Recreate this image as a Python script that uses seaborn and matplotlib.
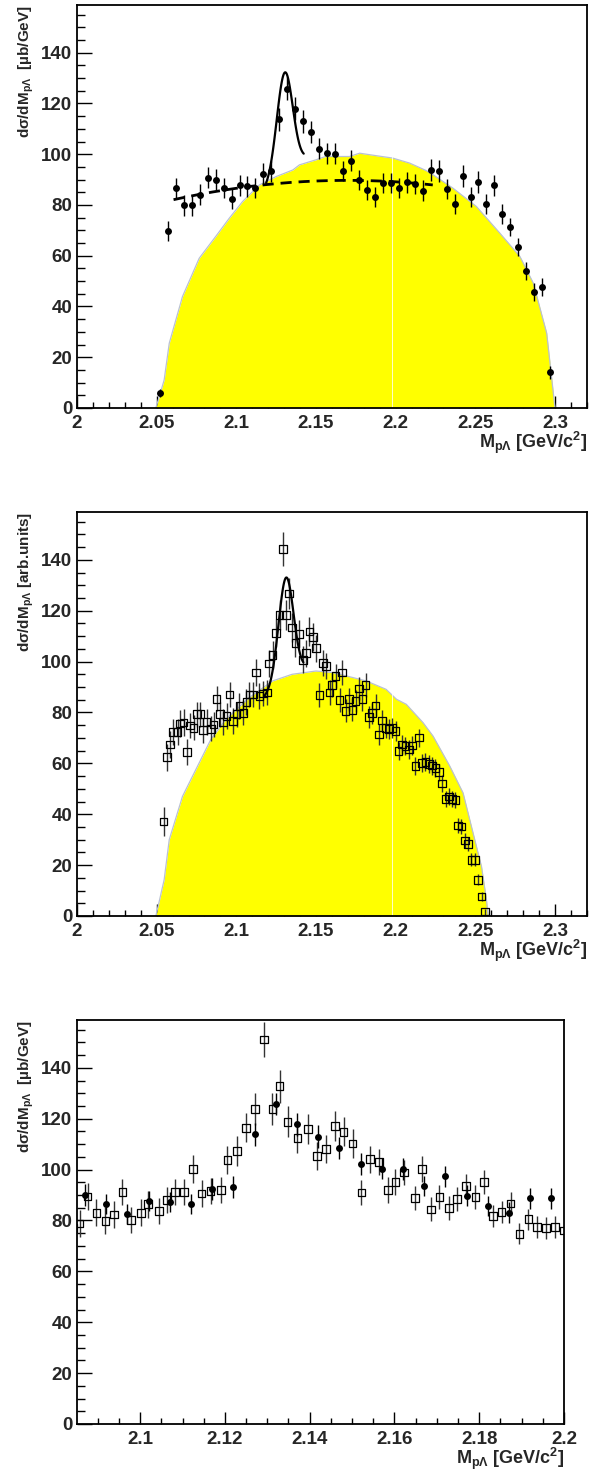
import numpy as np
import matplotlib
matplotlib.use('Agg')
import matplotlib.pyplot as plt
from matplotlib.ticker import MultipleLocator, FuncFormatter
import seaborn as sns

# p-Lambda invariant mass spectrum, data in mub/GeV (filled circles)
mass_mub = [2.052, 2.057, 2.062, 2.067, 2.072, 2.077, 2.082, 2.087, 2.092, 2.097,
            2.102, 2.107, 2.112, 2.117, 2.122, 2.127, 2.132, 2.137, 2.142, 2.147,
            2.152, 2.157, 2.162, 2.167, 2.172, 2.177, 2.182, 2.187, 2.192, 2.197,
            2.202, 2.207, 2.212, 2.217, 2.222, 2.227, 2.232, 2.237, 2.242, 2.247,
            2.252, 2.257, 2.262, 2.267, 2.272, 2.277, 2.282, 2.287, 2.292, 2.297]
xsec_mub = [5.8, 69.8, 86.6, 79.8, 79.8, 84.1, 90.8, 90.0, 86.6, 82.5,
            87.7, 87.3, 86.6, 92.4, 93.2, 113.8, 125.8, 117.9, 112.9, 108.6,
            102.2, 100.4, 100.2, 93.5, 97.4, 89.8, 85.8, 83.1, 88.7, 88.7,
            86.8, 88.9, 88.3, 85.7, 93.7, 93.5, 86.4, 80.4, 91.4, 83.1,
            89.0, 80.3, 87.8, 76.5, 71.2, 63.4, 54.1, 45.7, 47.7, 14.1]
err_mub = [1.5, 3.8, 4.0, 4.0, 4.0, 4.0, 4.2, 4.2, 4.0, 4.0,
           4.0, 4.0, 4.0, 4.2, 4.2, 4.5, 4.5, 4.5, 4.5, 4.3,
           4.2, 4.2, 4.2, 4.0, 4.2, 4.0, 4.0, 4.0, 4.0, 4.0,
           4.0, 4.0, 4.0, 4.0, 4.3, 4.3, 4.0, 4.0, 4.3, 4.0,
           4.2, 4.0, 4.2, 3.8, 3.6, 3.5, 3.6, 3.4, 3.4, 2.6]

# same spectrum, finer binning, arbitrary units (open squares)
mass_arb = [2.0543, 2.0564, 2.0585, 2.0604, 2.0631, 2.0646, 2.0669, 2.0690, 2.0709, 2.0732,
            2.0753, 2.0774, 2.0792, 2.0813, 2.0841, 2.0857, 2.0876, 2.0897, 2.0918, 2.0939,
            2.0958, 2.0979, 2.1002, 2.1019, 2.1044, 2.1063, 2.1082, 2.1103, 2.1124, 2.1145,
            2.1166, 2.1191, 2.1206, 2.1228, 2.1250, 2.1271, 2.1292, 2.1312, 2.1329, 2.1348,
            2.1371, 2.1396, 2.1417, 2.1438, 2.1459, 2.1480, 2.1501, 2.1522, 2.1543, 2.1564,
            2.1585, 2.1602, 2.1623, 2.1648, 2.1665, 2.1686, 2.1706, 2.1728, 2.1748, 2.1769,
            2.1791, 2.1811, 2.1832, 2.1853, 2.1874, 2.1895, 2.1916, 2.1937, 2.1958, 2.1979,
            2.2000, 2.2019, 2.2040, 2.2061, 2.2082, 2.2103, 2.2124, 2.2145, 2.2165, 2.2187,
            2.2208, 2.2229, 2.2250, 2.2271, 2.2292, 2.2313, 2.2333, 2.2354, 2.2375, 2.2392,
            2.2413, 2.2434, 2.2455, 2.2476, 2.2497, 2.2518, 2.2539, 2.2560]
yield_arb = [37.2, 62.4, 67.4, 72.3, 72.3, 75.6, 76.0, 64.5, 74.9, 74.0,
             79.3, 79.3, 73.0, 76.2, 73.6, 75.3, 85.4, 79.3, 76.3, 78.6,
             87.1, 76.6, 79.3, 82.5, 79.9, 84.1, 87.1, 87.1, 95.7, 86.5,
             87.5, 87.8, 99.2, 102.5, 111.2, 118.3, 144.3, 118.3, 126.8, 113.4,
             107.3, 110.8, 100.7, 103.3, 111.9, 109.7, 105.3, 86.9, 99.4, 98.3,
             87.8, 90.8, 94.4, 84.9, 95.7, 80.6, 85.2, 81.0, 84.5, 89.4,
             85.2, 90.8, 78.2, 79.7, 82.8, 71.4, 76.9, 74.0, 73.6, 74.0,
             72.7, 64.8, 67.4, 66.8, 65.5, 67.0, 58.9, 70.1, 60.2, 60.5,
             59.8, 59.1, 58.2, 56.5, 52.1, 46.0, 47.0, 46.0, 45.5, 35.6,
             35.2, 29.7, 28.4, 22.1, 22.1, 14.2, 7.6, 1.7]
err_arb = [5.6, 5.3, 5.3, 5.2, 5.2, 5.2, 5.2, 5.0, 5.0, 5.0,
           5.0, 5.0, 5.0, 5.0, 5.0, 5.0, 5.0, 5.0, 5.0, 5.0,
           5.0, 5.0, 5.0, 5.0, 5.0, 5.0, 5.0, 5.0, 5.3, 5.0,
           5.0, 5.0, 5.3, 5.5, 5.5, 6.0, 6.6, 6.0, 6.2, 5.8,
           5.5, 5.6, 5.3, 5.3, 5.6, 5.5, 5.3, 4.8, 5.0, 5.0,
           4.8, 4.8, 4.8, 4.6, 4.8, 4.5, 4.5, 4.5, 4.5, 4.6,
           4.5, 4.6, 4.2, 4.2, 4.3, 4.0, 4.0, 4.0, 4.0, 4.0,
           3.8, 3.6, 3.6, 3.6, 3.6, 3.6, 3.5, 3.6, 3.5, 3.5,
           3.5, 3.5, 3.5, 3.4, 3.3, 3.2, 3.2, 3.2, 3.2, 3.0,
           3.0, 2.8, 2.8, 2.6, 2.6, 2.2, 1.8, 1.2]

# arb. units -> mub/GeV for the overlay in the bottom panel
arb_to_mub = 1.047

# simulated phase space (yellow)
ps_top_mass = [2.0495, 2.0547, 2.0579, 2.0662, 2.0767, 2.0872, 2.0956, 2.1040, 2.1145, 2.1250,
               2.1355, 2.1396, 2.1500, 2.1560, 2.1710, 2.1774, 2.1880, 2.1980, 2.2088, 2.2190,
               2.2235, 2.2360, 2.2507, 2.2654, 2.2780, 2.2864, 2.2948, 2.3000]
ps_top_val = [0.0, 11.0, 25.5, 43.9, 59.0, 67.7, 74.8, 81.4, 87.9, 91.2,
              93.8, 95.8, 97.8, 99.1, 99.1, 100.4, 99.4, 98.5, 96.5, 93.6,
              91.9, 86.6, 79.4, 68.9, 59.7, 49.2, 29.5, 0.0]
ps_mid_mass = [2.0495, 2.0547, 2.0579, 2.0662, 2.0767, 2.0840, 2.0935, 2.1080, 2.1228, 2.1350,
               2.1500, 2.1606, 2.1815, 2.1940, 2.2005, 2.2067, 2.2172, 2.2235, 2.2340, 2.2423,
               2.2486, 2.2539, 2.2570, 2.2580]
ps_mid_val = [0.0, 14.2, 30.0, 47.0, 60.2, 69.4, 77.3, 85.8, 92.4, 95.0,
              96.3, 95.7, 92.4, 89.1, 85.2, 83.2, 76.0, 70.7, 58.9, 48.4,
              32.6, 19.4, 6.3, 0.0]

# fits: gaussian peak on a linear background
fit_top = dict(m0=2.1304, sigma=0.0050, amp=40.3, bg=91.9, slope=500.0, lo=2.1187, hi=2.1423)
fit_mid = dict(m0=2.1312, sigma=0.0047, amp=41.0, bg=92.0, slope=450.0, lo=2.1176, hi=2.1421)
# smooth background of the top panel (dashed)
bkg_top = dict(top=89.7, mtop=2.17, curv=636.0, lo=2.0606, hi=2.2233)

sns.set_style('ticks')
plt.rcParams['font.family'] = ['Liberation Sans', 'DejaVu Sans']
plt.rcParams['font.weight'] = 'bold'
plt.rcParams['mathtext.fontset'] = 'custom'
plt.rcParams['mathtext.rm'] = 'Liberation Sans:bold'
plt.rcParams['mathtext.it'] = 'Liberation Sans:bold'
plt.rcParams['mathtext.bf'] = 'Liberation Sans:bold'
plt.rcParams['mathtext.default'] = 'bf'

YMAX = 158.8
xlab = 'M$_{pΛ}$ [GeV/c$^{2}$]'
gfmt = FuncFormatter(lambda v, p: '%g' % round(v, 4))


def peak(p, m):
    return p['bg'] + p['slope'] * (m - p['m0']) + p['amp'] * np.exp(-0.5 * ((m - p['m0']) / p['sigma']) ** 2)


def style_axes(ax, xmin, xmax, xmaj, xmin_step, ylabel):
    ax.set_xlim(xmin, xmax)
    ax.set_ylim(0, YMAX)
    ax.xaxis.set_major_locator(MultipleLocator(xmaj))
    ax.xaxis.set_minor_locator(MultipleLocator(xmin_step))
    ax.xaxis.set_major_formatter(gfmt)
    ax.yaxis.set_major_locator(MultipleLocator(20))
    ax.yaxis.set_minor_locator(MultipleLocator(5))
    ax.tick_params(which='both', direction='in', top=False, right=False, width=1.0,
                   color='black', labelsize=13.5)
    ax.tick_params(axis='x', which='major', length=8.5, pad=5)
    ax.tick_params(axis='x', which='minor', length=4.3)
    ax.tick_params(axis='y', which='major', length=11, pad=3.5)
    ax.tick_params(axis='y', which='minor', length=5.8)
    for lab in ax.get_xticklabels() + ax.get_yticklabels():
        lab.set_fontweight('bold')
    for sp in ax.spines.values():
        sp.set_color('black')
        sp.set_linewidth(1.3)
    w = ax.get_position().width * 607
    ax.set_ylabel(ylabel, fontsize=11, fontweight='bold', loc='top')
    ax.yaxis.set_label_coords(-41.0 / w, 1.0)
    ax.set_xlabel(xlab, fontsize=13, fontweight='bold', loc='right')
    ax.xaxis.set_label_coords(1.0, -22.0 / 404)


def draw_phase_space(ax, m, v):
    ax.fill_between(m, 0, v, color='#ffff00', lw=0, zorder=1)
    ax.plot(m, v, color='#b9c1d3', lw=0.9, zorder=1.2)
    ax.axvline(2.198, color='white', lw=0.7, alpha=0.8, zorder=1.3)


def draw_circles(ax, m, v, e):
    ax.errorbar(m, v, yerr=e, fmt='none', ecolor='black', elinewidth=1.0, capsize=0, zorder=3)
    sns.scatterplot(x=m, y=v, ax=ax, marker='o', s=25, color='black',
                    edgecolor='black', linewidth=0, zorder=4)


def draw_squares(ax, m, v, e):
    ax.errorbar(m, v, yerr=e, fmt='none', ecolor='#333333', elinewidth=1.0, capsize=0, zorder=3)
    sns.scatterplot(x=m, y=v, ax=ax, marker='s', s=30, color='black', facecolor='none',
                    edgecolor='black', linewidth=0.9, zorder=4)


def draw_fit(ax, p, **kw):
    mm = np.linspace(p['lo'], p['hi'], 120)
    sns.lineplot(x=mm, y=peak(p, mm), ax=ax, color='black', lw=1.6, errorbar=None, zorder=3.5, **kw)


fig = plt.figure(figsize=(6.07, 14.74), dpi=100)
ax1 = fig.add_axes([77 / 607, 1 - 408 / 1474, 510 / 607, 403 / 1474])
ax2 = fig.add_axes([77 / 607, 1 - 916 / 1474, 510 / 607, 404 / 1474])
ax3 = fig.add_axes([77 / 607, 1 - 1424 / 1474, 487 / 607, 404 / 1474])

# top: mub/GeV with phase space, fit and background
draw_phase_space(ax1, ps_top_mass, ps_top_val)
mb = np.linspace(bkg_top['lo'], bkg_top['hi'], 200)
sns.lineplot(x=mb, y=bkg_top['top'] - bkg_top['curv'] * (mb - bkg_top['mtop']) ** 2, ax=ax1,
             color='black', lw=2.0, linestyle=(0, (4, 2.5)), errorbar=None, zorder=3.4)
draw_fit(ax1, fit_top)
draw_circles(ax1, mass_mub, xsec_mub, err_mub)
style_axes(ax1, 2.0, 2.3201, 0.05, 0.01, 'dσ/dM$_{pΛ}$  [µb/GeV]')

# middle: arbitrary units
draw_phase_space(ax2, ps_mid_mass, ps_mid_val)
draw_fit(ax2, fit_mid)
draw_squares(ax2, mass_arb, yield_arb, err_arb)
style_axes(ax2, 2.0, 2.3201, 0.05, 0.01, 'dσ/dM$_{pΛ}$ [arb.units]')

# bottom: zoom on the peak region, both data sets in mub/GeV
draw_squares(ax3, mass_arb, [y * arb_to_mub for y in yield_arb], [e * arb_to_mub for e in err_arb])
draw_circles(ax3, mass_mub, xsec_mub, err_mub)
style_axes(ax3, 2.0851, 2.2, 0.02, 0.005, 'dσ/dM$_{pΛ}$  [µb/GeV]')

fig.savefig('out.png', dpi=100)
